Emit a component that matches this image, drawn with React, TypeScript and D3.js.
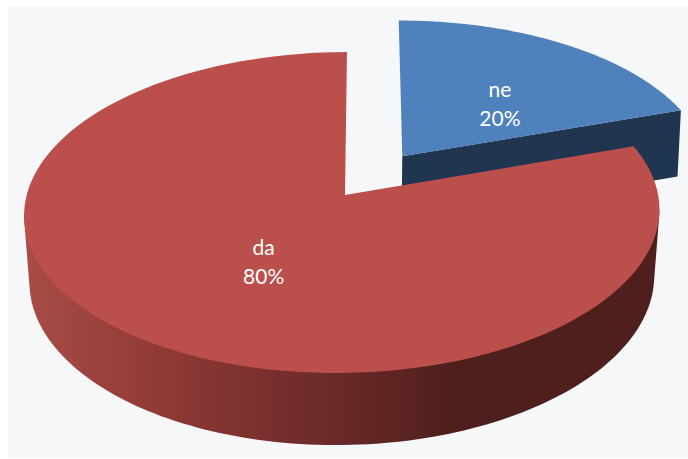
import React from "react";
import * as d3 from "d3";

const categories = ["ne", "da"];
const shares = [20, 80];

const width = 688;
const height = 459;

// colours per slice
const topColor = d3.scaleOrdinal<string, string>().domain(categories).range(["#4f81bd", "#bb4f4c"]);

// projection of the unit disc onto the page (the pie is seen in perspective)
const project = (u: number, v: number): [number, number] => {
    const w = 1 + 0.0094 * u + 0.109 * v;
    return [(345 + 319 * u + 39.8 * v) / w, (195 - 137.3 * v) / w];
};

// the floor of the pie: same shape pushed down, narrower towards the front
const drop = ([x, y]: [number, number]): [number, number] => {
    const s = 0.99 - (0.007 * (y - 111)) / 104;
    return [342 + (x - 342) * s, 1.023 * y + 63.5];
};

const line = d3.line();

// points on the rim between two pie angles
const rim = (a0: number, a1: number, ox: number, oy: number) =>
    d3.range(0, 121).map((i) => {
        const a = a0 + ((a1 - a0) * i) / 120;
        return project(Math.sin(a) + ox, Math.cos(a) + oy);
    });

const slices = d3.pie<number>().sort(null)(shares);
const explode = [[0.185, 0.25], [0, 0]];
const labelNudge = [[13, 7], [17, 0]];

// the front of the wall runs between the two side extremes of the disc
const wallFrom = (96 * Math.PI) / 180;
const wallTo = (264 * Math.PI) / 180;

export default function App() {
    const [ne, da] = slices;
    const [bx, by] = explode[0];
    const neApex = project(bx, by);
    const neRim = rim(ne.startAngle, ne.endAngle, bx, by);
    const neEnd = neRim[neRim.length - 1];
    const daRim = rim(da.startAngle, da.endAngle, 0, 0);
    const daApex = project(0, 0);
    const wallRim = rim(wallFrom, wallTo, 0, 0);
    const wall = d3.polygonHull([...wallRim, ...wallRim.map(drop)]) as [number, number][];

    return (
        <svg width={width} height={height} style={{ position: "absolute", left: 0, top: 0 }}>
            <defs>
                <linearGradient id="side" gradientUnits="userSpaceOnUse" x1={30} x2={655} y1={0} y2={0}>
                    <stop offset="0" stopColor="#a84b47" />
                    <stop offset="0.22" stopColor="#8e3935" />
                    <stop offset="0.51" stopColor="#682827" />
                    <stop offset="0.68" stopColor="#4e1f1c" />
                    <stop offset="1" stopColor="#4e1f1c" />
                </linearGradient>
            </defs>
            <rect x={8} y={6} width={680} height={452} fill="#f5f7f8" />

            {/* blue slice: cut face, then top */}
            <path d={line([neApex, neEnd, drop(neEnd), drop(neApex)]) + "Z"} fill="#1f3550" />
            <path d={line([neApex, ...neRim]) + "Z"} fill={topColor("ne")} />

            {/* red slice: wall, then top */}
            <path d={line(wall) + "Z"} fill="url(#side)" />
            <path d={line([daApex, ...daRim]) + "Z"} fill={topColor("da")} />

            {slices.map((s, i) => {
                const mid = (s.startAngle + s.endAngle) / 2;
                const [x, y] = project(
                    0.5 * Math.sin(mid) + explode[i][0],
                    0.5 * Math.cos(mid) + explode[i][1],
                );
                const lx = x + labelNudge[i][0];
                const ly = y + labelNudge[i][1];
                return (
                    <text key={categories[i]} x={lx} y={ly} textAnchor="middle" fill="#fff"
                        fontFamily="Lato, 'Open Sans', sans-serif" fontSize={21}>
                        <tspan x={lx} dy={-8}>{categories[i]}</tspan>
                        <tspan x={lx} dy={29.5}>{shares[i]}%</tspan>
                    </text>
                );
            })}
        </svg>
    );
}
